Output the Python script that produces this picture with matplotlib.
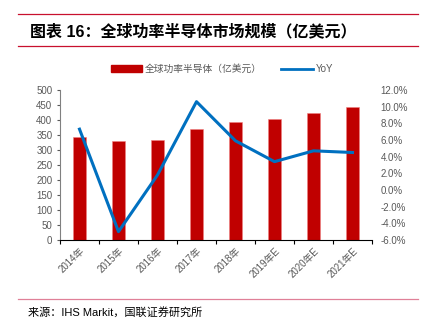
import numpy as np
import matplotlib.pyplot as plt
from matplotlib.lines import Line2D
from matplotlib.patches import Patch
from matplotlib.ticker import FuncFormatter

plt.rcParams['font.family'] = ['Liberation Sans', 'Noto Sans CJK SC', 'DejaVu Sans']

years = ['2014年', '2015年', '2016年', '2017年', '2018年', '2019年E', '2020年E', '2021年E']
market = [344, 329, 334, 370, 392, 404, 422, 442]   # 亿美元
yoy = [7.3, -5.0, 1.8, 10.6, 5.9, 3.4, 4.7, 4.5]    # %

fig = plt.figure(figsize=(4.27, 3.23), dpi=100)
ax = fig.add_axes([60/427, 1 - 240/323, 312/427, 150/323])
ax2 = ax.twinx()

x = np.arange(len(years))
ax.bar(x, market, width=0.32, color='#C00000', edgecolor='#F08080', linewidth=0.4, zorder=2)
ax2.plot(x, yoy, color='#0070C0', linewidth=2.2, zorder=3)

ax.set_xlim(-0.5, len(years) - 0.5)
ax.set_ylim(0, 500)
ax.set_yticks(range(0, 501, 50))
ax2.set_ylim(-6, 12)
ax2.set_yticks(range(-6, 13, 2))
ax2.yaxis.set_major_formatter(FuncFormatter(lambda v, p: '%.1f%%' % v))

# year labels sit at the bar centres, ticks on category boundaries
ax.set_xticks(np.arange(-0.5, len(years), 1.0))
ax.set_xticklabels([])
ax.set_xticks(x, minor=True)
ax.set_xticklabels(years, minor=True, rotation=45, ha='right', va='top',
                   rotation_mode='anchor', fontsize=7, color='#595959')
ax.tick_params(axis='x', which='major', length=3, direction='out', color='black')
ax.tick_params(axis='x', which='minor', length=0, pad=4)
ax.tick_params(axis='y', labelsize=7, labelcolor='#595959', length=2, color='#595959')
ax2.tick_params(axis='y', labelsize=7, labelcolor='#595959', length=0, pad=6)

for s in ['top', 'right']:
    ax.spines[s].set_visible(False)
for s in ['top', 'right', 'left', 'bottom']:
    ax2.spines[s].set_visible(False)
ax.spines['left'].set_color('#808080')
ax.spines['bottom'].set_color('black')

# title block with red rules
fig.add_artist(Line2D([18/427, 418/427], [1 - 14/323] * 2, color='#C8102E', lw=0.9))
fig.add_artist(Line2D([18/427, 418/427], [1 - 46/323] * 2, color='#C8102E', lw=0.9))
fig.text(30/427, 1 - 31/323, '图表 16：全球功率半导体市场规模（亿美元）',
         fontsize=11.5, fontweight='bold', va='center', ha='left', color='black')

handles = [Patch(color='#C00000'), Line2D([], [], color='#0070C0', lw=2)]
fig.legend(handles, ['全球功率半导体（亿美元）', 'YoY'], loc='center',
           bbox_to_anchor=(222/427, 1 - 69/323), ncol=2, frameon=False,
           fontsize=7, labelcolor='#595959', handlelength=3.2, handleheight=0.6,
           columnspacing=2.0, handletextpad=0.3)

fig.add_artist(Line2D([18/427, 418/427], [1 - 299/323] * 2, color='#E08098', lw=0.9))
fig.text(28/427, 1 - 312/323, '来源：IHS Markit，国联证券研究所',
         fontsize=8, va='center', ha='left', color='black')

fig.savefig('out.png', dpi=100)
